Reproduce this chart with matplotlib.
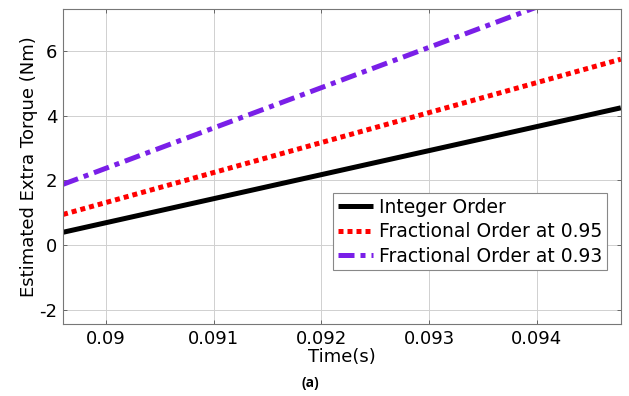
import matplotlib.pyplot as plt
import numpy as np

# endpoints of each (straight) trace
time_s = [0.0896, 0.09478]
integer_order = [0.40, 4.24]
frac_095 = [0.95, 5.74]
frac_093 = [1.88, 8.32]

x_ticks = [0.09, 0.091, 0.092, 0.093, 0.094]
x_tick_labels = ["0.09", "0.091", "0.092", "0.093", "0.094"]
y_ticks = [-2, 0, 2, 4, 6]

plt.rcParams["font.family"] = ["DejaVu Sans"]
plt.rcParams["axes.unicode_minus"] = False

fig = plt.figure(figsize=(6.29, 3.96), dpi=100)
ax = fig.add_axes([0.1002, 0.1818, 0.8868, 0.7947])

ax.plot(time_s, integer_order, color="black", lw=3.6, solid_capstyle="butt",
        label="Integer Order")
ax.plot(time_s, frac_095, color="#ff0000", lw=3.6, linestyle=(0, (1, 0.8)),
        dash_capstyle="butt", label="Fractional Order at 0.95")
ax.plot(time_s, frac_093, color="#7a1fe8", lw=3.6, linestyle=(0, (3.2, 1.2, 1, 1.2)),
        dash_capstyle="butt", label="Fractional Order at 0.93")

ax.set_xlim(0.0896, 0.09478)
ax.set_ylim(-2.43, 7.28)
ax.set_xticks(x_ticks)
ax.set_xticklabels(x_tick_labels)
ax.set_yticks(y_ticks)
ax.tick_params(direction="in", length=3, width=0.6, color="#555555",
               labelsize=13, top=True, right=True, pad=4)
ax.grid(True, color="#d0d0d0", lw=0.7)
for sp in ax.spines.values():
    sp.set_color("#777777")
    sp.set_linewidth(0.8)

ax.set_xlabel("Time(s)", fontsize=13, labelpad=0)
ax.set_ylabel("Estimated Extra Torque (Nm)", fontsize=13, labelpad=1)

leg = ax.legend(loc="lower right", bbox_to_anchor=(0.975, 0.171), fontsize=13.5,
                handlelength=1.9, handletextpad=0.3, borderpad=0.25,
                labelspacing=0.28, fancybox=False, framealpha=1,
                borderaxespad=0)
leg.get_frame().set_edgecolor("#888888")
leg.get_frame().set_linewidth(0.8)

fig.text(0.493, 0.033, "(a)", fontsize=10, fontweight="bold", ha="center",
         va="center", family=["Open Sans", "DejaVu Sans"])

fig.savefig("out.png", dpi=100)
